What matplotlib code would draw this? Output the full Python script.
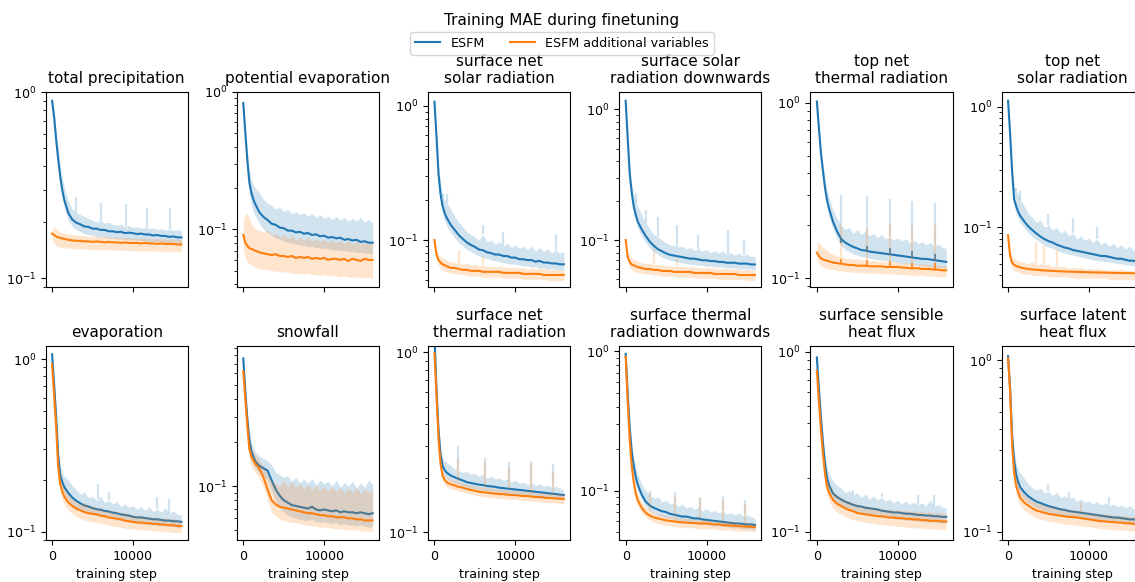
import numpy as np
import matplotlib
matplotlib.use("Agg")
import matplotlib.pyplot as plt
from matplotlib.lines import Line2D

# ---------------- data ----------------
STEPS = [0, 250, 500, 750, 1000, 1250, 1500,
         2000, 2500, 3000, 3500, 4000, 4500, 5000, 5500, 6000, 6500, 7000, 7500,
         8000, 8500, 9000, 9500, 10000, 10500, 11000, 11500, 12000, 12500, 13000, 13500,
         14000, 14500, 15000, 15500, 16000]

TITLES = ["total precipitation", "potential evaporation", "surface net\nsolar radiation",
          "surface solar\nradiation downwards", "top net\nthermal radiation", "top net\nsolar radiation",
          "evaporation", "snowfall", "surface net\nthermal radiation",
          "surface thermal\nradiation downwards", "surface sensible\nheat flux", "surface latent\nheat flux"]

SERIES_LABELS = ["ESFM", "ESFM additional variables"]

# total precipitation
TP_E = [0.90, 0.74, 0.56, 0.44, 0.355, 0.30, 0.265,
        0.225, 0.207, 0.199, 0.195, 0.190, 0.189, 0.185, 0.185, 0.182, 0.182, 0.179, 0.179,
        0.177, 0.178, 0.175, 0.176, 0.175, 0.173, 0.174, 0.172, 0.172, 0.170, 0.171, 0.169,
        0.169, 0.167, 0.168, 0.166, 0.166]
TP_E_LO = [0.86, 0.68, 0.51, 0.40, 0.32, 0.27, 0.24,
           0.205, 0.19, 0.182, 0.178, 0.174, 0.172, 0.17, 0.168, 0.167, 0.166, 0.165, 0.164,
           0.163, 0.163, 0.162, 0.161, 0.161, 0.16, 0.16, 0.159, 0.158, 0.158, 0.157, 0.157,
           0.156, 0.155, 0.155, 0.154, 0.153]
TP_E_HI = [0.95, 0.80, 0.62, 0.50, 0.41, 0.35, 0.31,
           0.26, 0.235, 0.225, 0.22, 0.215, 0.21, 0.205, 0.20, 0.205, 0.198, 0.20, 0.195,
           0.192, 0.196, 0.19, 0.192, 0.188, 0.19, 0.186, 0.188, 0.185, 0.187, 0.183, 0.185,
           0.182, 0.184, 0.181, 0.183, 0.18]
TP_A = [0.174, 0.171, 0.168, 0.166, 0.165, 0.164, 0.163,
        0.161, 0.160, 0.159, 0.159, 0.158, 0.158, 0.157, 0.158, 0.157, 0.156, 0.157, 0.156,
        0.156, 0.155, 0.156, 0.155, 0.155, 0.155, 0.154, 0.155, 0.154, 0.154, 0.153, 0.154,
        0.153, 0.153, 0.153, 0.152, 0.152]
TP_A_LO = [0.163, 0.155, 0.15, 0.148, 0.147, 0.146, 0.146,
           0.145, 0.145, 0.144, 0.144, 0.144, 0.143, 0.143, 0.143, 0.142, 0.143, 0.142, 0.142,
           0.142, 0.141, 0.142, 0.141, 0.141, 0.141, 0.14, 0.141, 0.14, 0.14, 0.14, 0.14,
           0.139, 0.14, 0.139, 0.139, 0.139]
TP_A_HI = [0.185, 0.19, 0.185, 0.18, 0.178, 0.176, 0.175,
           0.173, 0.172, 0.171, 0.17, 0.17, 0.169, 0.168, 0.169, 0.167, 0.168, 0.167, 0.166,
           0.167, 0.165, 0.166, 0.165, 0.165, 0.164, 0.165, 0.164, 0.164, 0.163, 0.164, 0.163,
           0.163, 0.162, 0.163, 0.162, 0.162]

# potential evaporation
PE_E = [0.83, 0.51, 0.32, 0.22, 0.185, 0.165, 0.152,
        0.133, 0.123, 0.117, 0.110, 0.108, 0.103, 0.102, 0.098, 0.098, 0.095, 0.096, 0.093,
        0.094, 0.091, 0.092, 0.089, 0.090, 0.087, 0.088, 0.086, 0.087, 0.084, 0.085, 0.083,
        0.084, 0.081, 0.082, 0.080, 0.080]
PE_E_LO = [0.78, 0.45, 0.28, 0.18, 0.15, 0.135, 0.125,
           0.11, 0.1, 0.095, 0.09, 0.087, 0.085, 0.082, 0.081, 0.079, 0.078, 0.077, 0.076,
           0.075, 0.075, 0.074, 0.073, 0.073, 0.072, 0.071, 0.071, 0.07, 0.07, 0.069, 0.069,
           0.068, 0.068, 0.067, 0.067, 0.066]
PE_E_HI = [0.88, 0.58, 0.38, 0.27, 0.23, 0.21, 0.20,
           0.185, 0.165, 0.155, 0.15, 0.14, 0.145, 0.135, 0.14, 0.13, 0.135, 0.128, 0.132,
           0.125, 0.13, 0.122, 0.128, 0.12, 0.125, 0.118, 0.124, 0.117, 0.122, 0.115, 0.12,
           0.115, 0.122, 0.113, 0.118, 0.112]
PE_A = [0.091, 0.080, 0.076, 0.073, 0.072, 0.071, 0.070,
        0.068, 0.067, 0.066, 0.065, 0.066, 0.064, 0.064, 0.063, 0.064, 0.062, 0.063, 0.062,
        0.063, 0.061, 0.062, 0.061, 0.062, 0.060, 0.061, 0.061, 0.060, 0.061, 0.059, 0.061,
        0.060, 0.059, 0.061, 0.060, 0.060]
PE_A_LO = [0.075, 0.062, 0.058, 0.056, 0.055, 0.054, 0.053,
           0.052, 0.051, 0.051, 0.05, 0.05, 0.049, 0.049, 0.049, 0.048, 0.048, 0.048, 0.047,
           0.048, 0.047, 0.047, 0.046, 0.047, 0.046, 0.046, 0.046, 0.045, 0.046, 0.045, 0.045,
           0.045, 0.045, 0.044, 0.045, 0.044]
PE_A_HI = [0.11, 0.13, 0.13, 0.12, 0.11, 0.105, 0.10,
           0.098, 0.095, 0.1, 0.09, 0.094, 0.088, 0.092, 0.086, 0.09, 0.084, 0.088, 0.083,
           0.087, 0.082, 0.086, 0.081, 0.085, 0.08, 0.084, 0.08, 0.083, 0.079, 0.082, 0.078,
           0.082, 0.078, 0.081, 0.078, 0.08]

# surface net solar radiation
SNS_E = [1.07, 0.59, 0.31, 0.22, 0.18, 0.16, 0.147,
         0.13, 0.119, 0.109, 0.102, 0.096, 0.092, 0.089, 0.085, 0.084, 0.081, 0.080, 0.078,
         0.078, 0.076, 0.076, 0.074, 0.074, 0.072, 0.072, 0.071, 0.071, 0.069, 0.070, 0.068,
         0.068, 0.067, 0.067, 0.066, 0.066]
SNS_E_LO = [1.03, 0.54, 0.27, 0.19, 0.155, 0.14, 0.128,
            0.114, 0.104, 0.096, 0.09, 0.085, 0.082, 0.079, 0.076, 0.074, 0.073, 0.071, 0.07,
            0.069, 0.068, 0.067, 0.066, 0.066, 0.065, 0.064, 0.064, 0.063, 0.063, 0.062, 0.062,
            0.061, 0.061, 0.061, 0.06, 0.06]
SNS_E_HI = [1.1, 0.65, 0.36, 0.26, 0.22, 0.2, 0.19,
            0.17, 0.15, 0.135, 0.125, 0.115, 0.11, 0.105, 0.1, 0.11, 0.097, 0.1, 0.093,
            0.098, 0.09, 0.095, 0.088, 0.092, 0.087, 0.09, 0.085, 0.09, 0.083, 0.088, 0.082,
            0.086, 0.08, 0.085, 0.08, 0.082]
SNS_A = [0.10, 0.078, 0.071, 0.068, 0.066, 0.065, 0.064,
         0.062, 0.062, 0.061, 0.060, 0.060, 0.059, 0.059, 0.059, 0.058, 0.058, 0.058, 0.058,
         0.058, 0.057, 0.057, 0.057, 0.057, 0.057, 0.056, 0.056, 0.056, 0.056, 0.056, 0.055,
         0.055, 0.055, 0.055, 0.055, 0.055]
SNS_A_LO = [0.095, 0.072, 0.065, 0.062, 0.06, 0.059, 0.058,
            0.057, 0.056, 0.056, 0.055, 0.055, 0.054, 0.054, 0.054, 0.053, 0.053, 0.053, 0.053,
            0.053, 0.052, 0.052, 0.052, 0.052, 0.052, 0.051, 0.051, 0.051, 0.051, 0.051, 0.051,
            0.05, 0.05, 0.05, 0.05, 0.05]
SNS_A_HI = [0.105, 0.085, 0.078, 0.075, 0.074, 0.072, 0.071,
            0.069, 0.068, 0.068, 0.066, 0.067, 0.065, 0.066, 0.064, 0.065, 0.064, 0.064, 0.063,
            0.064, 0.063, 0.063, 0.062, 0.063, 0.062, 0.062, 0.061, 0.062, 0.061, 0.062, 0.061,
            0.061, 0.06, 0.061, 0.06, 0.06]

# surface solar radiation downwards
SSRD_E = [1.16, 0.60, 0.32, 0.23, 0.18, 0.155, 0.138,
          0.12, 0.107, 0.097, 0.090, 0.085, 0.082, 0.079, 0.077, 0.076, 0.075, 0.074, 0.073,
          0.072, 0.072, 0.071, 0.070, 0.070, 0.069, 0.069, 0.068, 0.068, 0.067, 0.067, 0.067,
          0.066, 0.066, 0.066, 0.065, 0.065]
SSRD_E_LO = [1.12, 0.55, 0.28, 0.2, 0.16, 0.138, 0.123,
             0.106, 0.095, 0.087, 0.081, 0.077, 0.074, 0.072, 0.07, 0.069, 0.068, 0.067, 0.066,
             0.065, 0.065, 0.064, 0.064, 0.063, 0.063, 0.062, 0.062, 0.062, 0.061, 0.061, 0.061,
             0.06, 0.06, 0.06, 0.06, 0.059]
SSRD_E_HI = [1.2, 0.66, 0.37, 0.27, 0.22, 0.2, 0.18,
             0.155, 0.135, 0.12, 0.11, 0.105, 0.1, 0.095, 0.092, 0.09, 0.088, 0.09, 0.085,
             0.088, 0.083, 0.086, 0.082, 0.085, 0.08, 0.083, 0.079, 0.082, 0.078, 0.08, 0.077,
             0.079, 0.076, 0.078, 0.075, 0.075]
SSRD_A = [0.10, 0.074, 0.068, 0.065, 0.064, 0.063, 0.062,
          0.061, 0.060, 0.060, 0.059, 0.059, 0.058, 0.058, 0.058, 0.057, 0.057, 0.057, 0.057,
          0.057, 0.056, 0.056, 0.056, 0.056, 0.056, 0.055, 0.055, 0.055, 0.055, 0.055, 0.055,
          0.054, 0.054, 0.054, 0.054, 0.054]
SSRD_A_LO = [0.095, 0.068, 0.062, 0.059, 0.058, 0.057, 0.056,
             0.056, 0.055, 0.055, 0.054, 0.054, 0.053, 0.053, 0.053, 0.053, 0.052, 0.052, 0.052,
             0.052, 0.052, 0.051, 0.051, 0.051, 0.051, 0.051, 0.05, 0.05, 0.05, 0.05, 0.05,
             0.05, 0.05, 0.049, 0.049, 0.049]
SSRD_A_HI = [0.105, 0.082, 0.076, 0.072, 0.071, 0.07, 0.069,
             0.067, 0.066, 0.067, 0.065, 0.065, 0.064, 0.064, 0.063, 0.063, 0.063, 0.063, 0.062,
             0.063, 0.062, 0.062, 0.061, 0.062, 0.061, 0.061, 0.06, 0.061, 0.06, 0.06, 0.06,
             0.06, 0.059, 0.06, 0.059, 0.059]

# top net thermal radiation
TNT_E = [1.02, 0.72, 0.52, 0.41, 0.33, 0.28, 0.25,
         0.21, 0.185, 0.168, 0.160, 0.155, 0.151, 0.148, 0.145, 0.144, 0.142, 0.141, 0.140,
         0.139, 0.138, 0.137, 0.136, 0.135, 0.134, 0.133, 0.132, 0.131, 0.130, 0.129, 0.129,
         0.128, 0.127, 0.126, 0.125, 0.124]
TNT_E_LO = [0.98, 0.66, 0.47, 0.37, 0.3, 0.255, 0.225,
            0.19, 0.168, 0.153, 0.146, 0.141, 0.138, 0.135, 0.133, 0.132, 0.13, 0.129, 0.128,
            0.127, 0.126, 0.125, 0.124, 0.123, 0.122, 0.121, 0.121, 0.12, 0.119, 0.118, 0.118,
            0.117, 0.116, 0.115, 0.115, 0.114]
TNT_E_HI = [1.06, 0.78, 0.57, 0.46, 0.37, 0.32, 0.29,
            0.245, 0.22, 0.2, 0.19, 0.195, 0.18, 0.19, 0.178, 0.185, 0.175, 0.18, 0.17,
            0.178, 0.168, 0.172, 0.165, 0.17, 0.163, 0.168, 0.16, 0.165, 0.158, 0.162, 0.155,
            0.16, 0.153, 0.157, 0.15, 0.148]
TNT_A = [0.140, 0.134, 0.130, 0.128, 0.127, 0.126, 0.125,
         0.123, 0.122, 0.121, 0.120, 0.119, 0.119, 0.118, 0.118, 0.118, 0.117, 0.117, 0.117,
         0.117, 0.116, 0.116, 0.116, 0.116, 0.115, 0.115, 0.114, 0.114, 0.114, 0.113, 0.113,
         0.113, 0.112, 0.112, 0.111, 0.111]
TNT_A_LO = [0.128, 0.122, 0.118, 0.116, 0.115, 0.114, 0.113,
            0.112, 0.111, 0.11, 0.109, 0.109, 0.108, 0.108, 0.108, 0.107, 0.107, 0.107, 0.107,
            0.106, 0.106, 0.106, 0.106, 0.105, 0.105, 0.105, 0.104, 0.104, 0.104, 0.104, 0.103,
            0.103, 0.103, 0.102, 0.102, 0.102]
TNT_A_HI = [0.16, 0.158, 0.155, 0.15, 0.148, 0.145, 0.14,
            0.138, 0.134, 0.133, 0.13, 0.13, 0.128, 0.129, 0.127, 0.128, 0.126, 0.127, 0.125,
            0.126, 0.124, 0.125, 0.123, 0.124, 0.122, 0.123, 0.121, 0.122, 0.12, 0.121, 0.12,
            0.12, 0.119, 0.119, 0.118, 0.118]

# top net solar radiation
TNS_E = [1.12, 0.60, 0.29, 0.17, 0.15, 0.135, 0.125,
         0.112, 0.102, 0.095, 0.089, 0.084, 0.080, 0.077, 0.075, 0.072, 0.070, 0.068, 0.067,
         0.065, 0.064, 0.063, 0.062, 0.061, 0.060, 0.059, 0.058, 0.058, 0.057, 0.056, 0.055,
         0.055, 0.054, 0.053, 0.053, 0.052]
TNS_E_LO = [1.07, 0.55, 0.25, 0.15, 0.13, 0.118, 0.11,
            0.099, 0.09, 0.084, 0.079, 0.075, 0.071, 0.069, 0.067, 0.065, 0.063, 0.061, 0.06,
            0.059, 0.058, 0.057, 0.056, 0.055, 0.054, 0.053, 0.053, 0.052, 0.052, 0.051, 0.05,
            0.05, 0.049, 0.049, 0.048, 0.048]
TNS_E_HI = [1.18, 0.66, 0.34, 0.22, 0.2, 0.19, 0.17,
            0.15, 0.13, 0.12, 0.11, 0.115, 0.1, 0.105, 0.095, 0.1, 0.09, 0.095, 0.085,
            0.09, 0.08, 0.085, 0.078, 0.082, 0.075, 0.08, 0.072, 0.076, 0.07, 0.074, 0.068,
            0.072, 0.066, 0.07, 0.065, 0.062]
TNS_A = [0.0860, 0.0580, 0.0510, 0.0490, 0.0480, 0.0472, 0.0466,
         0.0458, 0.0452, 0.0448, 0.0446, 0.0442, 0.0440, 0.0438, 0.0437, 0.0434, 0.0433, 0.0431, 0.0430,
         0.0429, 0.0428, 0.0427, 0.0426, 0.0425, 0.0424, 0.0423, 0.0423, 0.0422, 0.0421, 0.0420, 0.0420,
         0.0419, 0.0418, 0.0418, 0.0417, 0.0416]
TNS_A_LO = [0.082, 0.052, 0.046, 0.044, 0.043, 0.043, 0.042,
            0.041, 0.041, 0.04, 0.04, 0.04, 0.04, 0.039, 0.039, 0.039, 0.039, 0.039, 0.039,
            0.038, 0.038, 0.038, 0.038, 0.038, 0.038, 0.038, 0.038, 0.038, 0.037, 0.037, 0.037,
            0.037, 0.037, 0.037, 0.037, 0.037]
TNS_A_HI = [0.09, 0.066, 0.058, 0.055, 0.054, 0.053, 0.052,
            0.051, 0.05, 0.052, 0.049, 0.05, 0.048, 0.05, 0.047, 0.049, 0.047, 0.048, 0.046,
            0.047, 0.046, 0.047, 0.045, 0.046, 0.045, 0.046, 0.045, 0.045, 0.044, 0.045, 0.044,
            0.045, 0.044, 0.044, 0.044, 0.044]

# evaporation
EV_E = [1.07, 0.72, 0.466, 0.28, 0.215, 0.195, 0.182,
        0.168, 0.158, 0.151, 0.146, 0.142, 0.140, 0.137, 0.135, 0.134, 0.132, 0.131, 0.129,
        0.128, 0.126, 0.125, 0.124, 0.122, 0.121, 0.121, 0.120, 0.119, 0.118, 0.118, 0.117,
        0.116, 0.116, 0.115, 0.115, 0.114]
EV_E_LO = [1.03, 0.68, 0.43, 0.25, 0.195, 0.178, 0.167,
           0.153, 0.144, 0.138, 0.134, 0.13, 0.128, 0.126, 0.124, 0.123, 0.121, 0.12, 0.119,
           0.117, 0.116, 0.115, 0.114, 0.113, 0.112, 0.111, 0.111, 0.11, 0.11, 0.109, 0.108,
           0.108, 0.107, 0.107, 0.106, 0.106]
EV_E_HI = [1.1, 0.76, 0.5, 0.31, 0.24, 0.22, 0.21,
           0.2, 0.185, 0.175, 0.165, 0.17, 0.158, 0.16, 0.152, 0.16, 0.148, 0.152, 0.145,
           0.15, 0.14, 0.145, 0.138, 0.142, 0.135, 0.14, 0.133, 0.14, 0.131, 0.135, 0.13,
           0.138, 0.128, 0.132, 0.126, 0.125]
EV_A = [0.94, 0.62, 0.41, 0.24, 0.19, 0.172, 0.16,
        0.148, 0.141, 0.136, 0.133, 0.130, 0.128, 0.127, 0.126, 0.124, 0.123, 0.121, 0.120,
        0.119, 0.118, 0.116, 0.115, 0.114, 0.113, 0.113, 0.112, 0.112, 0.111, 0.111, 0.110,
        0.110, 0.109, 0.109, 0.108, 0.108]
EV_A_LO = [0.9, 0.58, 0.37, 0.21, 0.17, 0.155, 0.145,
           0.134, 0.127, 0.122, 0.119, 0.117, 0.115, 0.114, 0.113, 0.112, 0.111, 0.109, 0.108,
           0.107, 0.106, 0.105, 0.104, 0.104, 0.103, 0.103, 0.102, 0.102, 0.101, 0.101, 0.1,
           0.1, 0.1, 0.099, 0.099, 0.099]
EV_A_HI = [0.97, 0.66, 0.45, 0.27, 0.21, 0.19, 0.178,
           0.165, 0.155, 0.15, 0.145, 0.148, 0.14, 0.142, 0.136, 0.14, 0.132, 0.135, 0.13,
           0.132, 0.127, 0.13, 0.125, 0.127, 0.123, 0.126, 0.122, 0.124, 0.12, 0.123, 0.119,
           0.121, 0.118, 0.12, 0.117, 0.116]

# snowfall
SF_E = [0.76, 0.45, 0.29, 0.21, 0.175, 0.16, 0.148,
        0.138, 0.133, 0.128, 0.11, 0.095, 0.086, 0.08, 0.077, 0.074, 0.073, 0.072, 0.071,
        0.07, 0.072, 0.069, 0.068, 0.069, 0.068, 0.067, 0.068, 0.066, 0.067, 0.066, 0.066,
        0.065, 0.066, 0.065, 0.064, 0.065]
SF_E_LO = [0.7, 0.4, 0.26, 0.185, 0.155, 0.142, 0.132,
           0.122, 0.116, 0.11, 0.093, 0.079, 0.071, 0.066, 0.063, 0.061, 0.06, 0.059, 0.058,
           0.058, 0.059, 0.057, 0.056, 0.057, 0.056, 0.055, 0.056, 0.054, 0.055, 0.054, 0.054,
           0.053, 0.054, 0.053, 0.052, 0.053]
SF_E_HI = [0.82, 0.5, 0.33, 0.24, 0.2, 0.185, 0.172,
           0.16, 0.155, 0.15, 0.14, 0.125, 0.12, 0.115, 0.118, 0.108, 0.115, 0.105, 0.112,
           0.104, 0.113, 0.102, 0.11, 0.104, 0.108, 0.1, 0.11, 0.098, 0.106, 0.1, 0.108,
           0.097, 0.105, 0.098, 0.11, 0.102]
SF_A = [0.62, 0.40, 0.26, 0.18, 0.16, 0.15, 0.142,
        0.132, 0.115, 0.095, 0.08, 0.075, 0.072, 0.071, 0.07, 0.069, 0.068, 0.067, 0.066,
        0.065, 0.065, 0.064, 0.063, 0.063, 0.062, 0.062, 0.061, 0.061, 0.061, 0.06, 0.06,
        0.059, 0.059, 0.058, 0.058, 0.058]
SF_A_LO = [0.58, 0.35, 0.22, 0.155, 0.138, 0.13, 0.123,
           0.114, 0.098, 0.08, 0.066, 0.062, 0.059, 0.058, 0.057, 0.056, 0.056, 0.055, 0.054,
           0.054, 0.053, 0.053, 0.052, 0.052, 0.052, 0.051, 0.051, 0.051, 0.05, 0.05, 0.05,
           0.05, 0.049, 0.049, 0.049, 0.049]
SF_A_HI = [0.66, 0.45, 0.3, 0.21, 0.185, 0.172, 0.163,
           0.152, 0.135, 0.12, 0.11, 0.105, 0.1, 0.11, 0.098, 0.108, 0.097, 0.105, 0.095,
           0.103, 0.094, 0.102, 0.093, 0.1, 0.092, 0.1, 0.091, 0.098, 0.09, 0.097, 0.09,
           0.098, 0.089, 0.096, 0.09, 0.095]

# surface net thermal radiation
SNT_E = [1.25, 0.62, 0.37, 0.27, 0.235, 0.222, 0.215,
         0.207, 0.202, 0.198, 0.194, 0.190, 0.188, 0.186, 0.184, 0.183, 0.181, 0.180, 0.179,
         0.177, 0.176, 0.175, 0.174, 0.173, 0.172, 0.171, 0.170, 0.169, 0.168, 0.167, 0.166,
         0.165, 0.164, 0.163, 0.162, 0.161]
SNT_E_LO = [1.2, 0.58, 0.34, 0.25, 0.215, 0.205, 0.2,
            0.193, 0.188, 0.185, 0.181, 0.178, 0.176, 0.174, 0.172, 0.171, 0.17, 0.168, 0.167,
            0.166, 0.165, 0.164, 0.163, 0.162, 0.161, 0.16, 0.159, 0.158, 0.158, 0.157, 0.156,
            0.155, 0.155, 0.154, 0.153, 0.153]
SNT_E_HI = [1.35, 0.68, 0.41, 0.3, 0.26, 0.25, 0.245,
            0.235, 0.225, 0.22, 0.215, 0.218, 0.21, 0.212, 0.205, 0.21, 0.2, 0.205, 0.198,
            0.2, 0.195, 0.198, 0.19, 0.195, 0.188, 0.19, 0.185, 0.19, 0.182, 0.186, 0.18,
            0.183, 0.178, 0.18, 0.176, 0.172]
SNT_A = [0.99, 0.58, 0.33, 0.24, 0.206, 0.196, 0.19,
         0.185, 0.182, 0.179, 0.177, 0.174, 0.172, 0.170, 0.168, 0.167, 0.166, 0.165, 0.164,
         0.163, 0.163, 0.162, 0.161, 0.161, 0.160, 0.159, 0.159, 0.158, 0.157, 0.157, 0.156,
         0.155, 0.155, 0.154, 0.154, 0.153]
SNT_A_LO = [0.96, 0.55, 0.31, 0.225, 0.194, 0.185, 0.179,
            0.175, 0.172, 0.169, 0.167, 0.165, 0.163, 0.161, 0.159, 0.158, 0.157, 0.156, 0.155,
            0.154, 0.154, 0.153, 0.152, 0.152, 0.151, 0.15, 0.15, 0.149, 0.148, 0.148, 0.147,
            0.146, 0.146, 0.145, 0.145, 0.144]
SNT_A_HI = [1.02, 0.61, 0.36, 0.26, 0.22, 0.21, 0.203,
            0.197, 0.194, 0.19, 0.188, 0.185, 0.183, 0.181, 0.179, 0.178, 0.177, 0.176, 0.175,
            0.174, 0.173, 0.172, 0.171, 0.171, 0.17, 0.169, 0.169, 0.168, 0.167, 0.167, 0.166,
            0.165, 0.165, 0.164, 0.164, 0.163]

# surface thermal radiation downwards
STRD_E = [0.96, 0.50, 0.28, 0.19, 0.15, 0.125, 0.11,
          0.093, 0.083, 0.078, 0.075, 0.073, 0.071, 0.070, 0.068, 0.067, 0.066, 0.065, 0.065,
          0.064, 0.063, 0.063, 0.062, 0.0615, 0.061, 0.0605, 0.060, 0.0595, 0.059, 0.0585, 0.058,
          0.058, 0.0575, 0.057, 0.057, 0.0566]
STRD_E_LO = [0.92, 0.45, 0.25, 0.17, 0.135, 0.113, 0.1,
             0.085, 0.076, 0.071, 0.069, 0.067, 0.065, 0.064, 0.063, 0.062, 0.061, 0.06, 0.06,
             0.059, 0.058, 0.058, 0.057, 0.057, 0.056, 0.056, 0.056, 0.055, 0.055, 0.054, 0.054,
             0.054, 0.053, 0.053, 0.053, 0.052]
STRD_E_HI = [1.0, 0.55, 0.32, 0.22, 0.17, 0.145, 0.13,
             0.11, 0.1, 0.092, 0.088, 0.09, 0.083, 0.085, 0.08, 0.082, 0.077, 0.08, 0.075,
             0.077, 0.073, 0.076, 0.071, 0.074, 0.07, 0.072, 0.069, 0.071, 0.068, 0.069, 0.067,
             0.069, 0.066, 0.067, 0.065, 0.063]
STRD_A = [0.92, 0.44, 0.23, 0.15, 0.115, 0.095, 0.085,
          0.075, 0.069, 0.066, 0.064, 0.063, 0.062, 0.061, 0.0605, 0.060, 0.0595, 0.059, 0.0588,
          0.0585, 0.0583, 0.058, 0.058, 0.058, 0.0575, 0.057, 0.057, 0.0565, 0.0562, 0.056, 0.0558,
          0.0555, 0.0552, 0.055, 0.0548, 0.0545]
STRD_A_LO = [0.89, 0.4, 0.2, 0.135, 0.102, 0.086, 0.077,
             0.069, 0.064, 0.061, 0.059, 0.058, 0.057, 0.056, 0.056, 0.055, 0.055, 0.054, 0.054,
             0.054, 0.054, 0.053, 0.053, 0.053, 0.053, 0.053, 0.052, 0.052, 0.052, 0.052, 0.051,
             0.051, 0.051, 0.051, 0.051, 0.05]
STRD_A_HI = [0.95, 0.48, 0.26, 0.17, 0.13, 0.105, 0.094,
             0.082, 0.075, 0.072, 0.07, 0.068, 0.067, 0.066, 0.065, 0.065, 0.064, 0.063, 0.063,
             0.063, 0.062, 0.062, 0.062, 0.062, 0.061, 0.061, 0.061, 0.06, 0.06, 0.06, 0.06,
             0.059, 0.059, 0.059, 0.059, 0.058]

# surface sensible heat flux
SSHF_E = [0.93, 0.62, 0.43, 0.31, 0.24, 0.20, 0.182,
          0.163, 0.156, 0.151, 0.147, 0.144, 0.141, 0.139, 0.138, 0.136, 0.135, 0.134, 0.133,
          0.131, 0.130, 0.129, 0.128, 0.128, 0.127, 0.126, 0.126, 0.125, 0.124, 0.124, 0.123,
          0.123, 0.122, 0.122, 0.121, 0.121]
SSHF_E_LO = [0.88, 0.57, 0.39, 0.28, 0.215, 0.18, 0.165,
             0.148, 0.142, 0.138, 0.135, 0.132, 0.13, 0.128, 0.127, 0.125, 0.124, 0.123, 0.122,
             0.121, 0.12, 0.119, 0.118, 0.118, 0.117, 0.116, 0.116, 0.115, 0.115, 0.114, 0.114,
             0.113, 0.113, 0.112, 0.112, 0.112]
SSHF_E_HI = [0.99, 0.68, 0.48, 0.35, 0.27, 0.23, 0.21,
             0.19, 0.18, 0.175, 0.165, 0.17, 0.16, 0.165, 0.155, 0.162, 0.152, 0.158, 0.15,
             0.155, 0.148, 0.152, 0.145, 0.15, 0.143, 0.148, 0.142, 0.146, 0.14, 0.145, 0.139,
             0.15, 0.138, 0.142, 0.137, 0.135]
SSHF_A = [0.785, 0.53, 0.37, 0.272, 0.21, 0.178, 0.165,
          0.150, 0.143, 0.139, 0.135, 0.132, 0.130, 0.127, 0.126, 0.125, 0.124, 0.123, 0.122,
          0.122, 0.121, 0.120, 0.120, 0.119, 0.119, 0.118, 0.118, 0.117, 0.117, 0.116, 0.116,
          0.115, 0.115, 0.115, 0.114, 0.114]
SSHF_A_LO = [0.75, 0.49, 0.33, 0.245, 0.188, 0.16, 0.148,
             0.135, 0.128, 0.125, 0.122, 0.119, 0.117, 0.115, 0.114, 0.113, 0.112, 0.111, 0.11,
             0.11, 0.109, 0.108, 0.108, 0.107, 0.107, 0.106, 0.106, 0.105, 0.105, 0.105, 0.104,
             0.104, 0.104, 0.103, 0.103, 0.103]
SSHF_A_HI = [0.82, 0.57, 0.41, 0.3, 0.235, 0.2, 0.185,
             0.168, 0.16, 0.155, 0.15, 0.148, 0.145, 0.142, 0.14, 0.14, 0.138, 0.137, 0.135,
             0.136, 0.133, 0.134, 0.132, 0.133, 0.131, 0.131, 0.13, 0.131, 0.129, 0.13, 0.128,
             0.129, 0.127, 0.128, 0.127, 0.126]

# surface latent heat flux
SLHF_E = [1.06, 0.69, 0.36, 0.26, 0.215, 0.195, 0.182,
          0.170, 0.161, 0.155, 0.150, 0.147, 0.144, 0.141, 0.139, 0.137, 0.135, 0.134, 0.132,
          0.131, 0.130, 0.129, 0.128, 0.127, 0.126, 0.125, 0.124, 0.123, 0.122, 0.121, 0.121,
          0.120, 0.119, 0.118, 0.118, 0.117]
SLHF_E_LO = [1.02, 0.63, 0.32, 0.23, 0.19, 0.175, 0.165,
             0.154, 0.147, 0.142, 0.138, 0.135, 0.132, 0.13, 0.128, 0.127, 0.125, 0.124, 0.123,
             0.122, 0.121, 0.12, 0.119, 0.118, 0.117, 0.117, 0.116, 0.115, 0.114, 0.114, 0.113,
             0.113, 0.112, 0.111, 0.111, 0.11]
SLHF_E_HI = [1.1, 0.75, 0.41, 0.3, 0.25, 0.23, 0.22,
             0.205, 0.19, 0.18, 0.175, 0.18, 0.168, 0.172, 0.162, 0.17, 0.158, 0.162, 0.155,
             0.16, 0.15, 0.155, 0.148, 0.152, 0.145, 0.15, 0.143, 0.147, 0.141, 0.145, 0.14,
             0.143, 0.138, 0.142, 0.136, 0.135]
SLHF_A = [1.03, 0.66, 0.32, 0.22, 0.185, 0.17, 0.158,
          0.148, 0.142, 0.137, 0.133, 0.131, 0.129, 0.127, 0.126, 0.125, 0.124, 0.123, 0.122,
          0.122, 0.121, 0.120, 0.119, 0.118, 0.117, 0.116, 0.115, 0.115, 0.114, 0.114, 0.113,
          0.113, 0.112, 0.112, 0.111, 0.111]
SLHF_A_LO = [0.99, 0.61, 0.28, 0.195, 0.165, 0.152, 0.142,
             0.133, 0.128, 0.124, 0.12, 0.118, 0.117, 0.115, 0.114, 0.113, 0.112, 0.111, 0.11,
             0.11, 0.109, 0.108, 0.107, 0.107, 0.106, 0.105, 0.104, 0.104, 0.103, 0.103, 0.102,
             0.102, 0.102, 0.101, 0.101, 0.1]
SLHF_A_HI = [1.07, 0.71, 0.36, 0.25, 0.205, 0.19, 0.177,
             0.165, 0.158, 0.152, 0.148, 0.146, 0.143, 0.142, 0.14, 0.138, 0.137, 0.136, 0.135,
             0.134, 0.133, 0.132, 0.131, 0.13, 0.129, 0.128, 0.127, 0.127, 0.126, 0.125, 0.125,
             0.124, 0.124, 0.123, 0.123, 0.122]

# occasional spikes of the shaded band (step, top value)
E_SPIKE_STEPS = [[3000, 6100, 9200, 11800, 14600], [], [1000, 1500, 6000, 8500, 15000],
                 [1300, 2500, 4000, 6400, 9000, 12700, 14600], [3000, 6200, 9000, 11800, 14600],
                 [1000, 1500, 5000, 8000, 11000], [5700, 7000, 13000, 14500], [],
                 [2900, 6200, 9250, 11900, 14700], [3000, 6100, 9200, 12000, 14700],
                 [4500, 8000, 12500, 14500], [5000, 7500, 12500]]
E_SPIKE_TOPS = [[0.275, 0.253, 0.25, 0.24, 0.24], [], [0.21, 0.22, 0.13, 0.115, 0.11],
                [0.23, 0.17, 0.15, 0.13, 0.11, 0.12, 0.1], [0.30, 0.295, 0.285, 0.275, 0.27],
                [0.21, 0.2, 0.13, 0.12, 0.1], [0.19, 0.17, 0.16, 0.155], [],
                [0.3, 0.26, 0.245, 0.25, 0.24], [0.1, 0.098, 0.09, 0.092, 0.085],
                [0.17, 0.165, 0.16, 0.16], [0.19, 0.17, 0.16]]
A_SPIKE_STEPS = [[], [], [3000, 6000], [3500, 6400], [3000, 6200, 9000, 11800, 14600],
                 [3500, 4500, 6000], [], [], [2900, 6200, 9250, 11900, 14700],
                 [3000, 6100, 9200, 12000, 14700], [], [9000]]
A_SPIKE_TOPS = [[], [], [0.085, 0.075], [0.085, 0.072], [0.2, 0.19, 0.2, 0.2, 0.2],
                [0.075, 0.07, 0.065], [], [], [0.26, 0.245, 0.23, 0.24, 0.22],
                [0.098, 0.09, 0.088, 0.085, 0.08], [], [0.15]]
# small spikes in the mean lines of "top net thermal radiation"
TNT_LINE_SPIKE_STEPS = [3000, 6200, 9000, 11800, 14600]
TNT_E_LINE_SPIKE_TOPS = [0.158, 0.153, 0.148, 0.143, 0.138]
TNT_A_LINE_SPIKE_TOPS = [0.129, 0.127, 0.125, 0.123, 0.122]

ESFM = [TP_E, PE_E, SNS_E, SSRD_E, TNT_E, TNS_E, EV_E, SF_E, SNT_E, STRD_E, SSHF_E, SLHF_E]
ESFM_LO = [TP_E_LO, PE_E_LO, SNS_E_LO, SSRD_E_LO, TNT_E_LO, TNS_E_LO, EV_E_LO, SF_E_LO,
           SNT_E_LO, STRD_E_LO, SSHF_E_LO, SLHF_E_LO]
ESFM_HI = [TP_E_HI, PE_E_HI, SNS_E_HI, SSRD_E_HI, TNT_E_HI, TNS_E_HI, EV_E_HI, SF_E_HI,
           SNT_E_HI, STRD_E_HI, SSHF_E_HI, SLHF_E_HI]
ADDV = [TP_A, PE_A, SNS_A, SSRD_A, TNT_A, TNS_A, EV_A, SF_A, SNT_A, STRD_A, SSHF_A, SLHF_A]
ADDV_LO = [TP_A_LO, PE_A_LO, SNS_A_LO, SSRD_A_LO, TNT_A_LO, TNS_A_LO, EV_A_LO, SF_A_LO,
           SNT_A_LO, STRD_A_LO, SSHF_A_LO, SLHF_A_LO]
ADDV_HI = [TP_A_HI, PE_A_HI, SNS_A_HI, SSRD_A_HI, TNT_A_HI, TNS_A_HI, EV_A_HI, SF_A_HI,
           SNT_A_HI, STRD_A_HI, SSHF_A_HI, SLHF_A_HI]

YLIMS = [(0.0895, 1.007), (0.0379, 1.003), (0.0445, 1.27), (0.0435, 1.36), (0.0888, 1.16),
         (0.0319, 1.33), (0.0895, 1.2), (0.0425, 0.93), (0.0906, 1.09), (0.0441, 1.10),
         (0.090, 1.08), (0.0894, 1.22)]

for group in (ESFM, ESFM_LO, ESFM_HI, ADDV, ADDV_LO, ADDV_HI):
    for arr in group:
        if len(arr) != len(STEPS):
            raise ValueError("length mismatch: %d" % len(arr))

# ---------------- style ----------------
C_E = "#1f77b4"
C_A = "#ff7f0e"
plt.rcParams["font.family"] = ["DejaVu Sans"]
plt.rcParams["font.size"] = 9.1
plt.rcParams["axes.titlesize"] = 10.95

W, H = 1135, 582
fig, axes = plt.subplots(2, 6, sharex=True, figsize=(W / 100, H / 100), dpi=100)
axes = axes.ravel()

x = np.array(STEPS, dtype=float)
for i, ax in enumerate(axes):
    r, c = divmod(i, 6)
    left = (45.6 + c * 191.2) / W
    if r == 0:
        ax.set_position([left, (H - 287.3) / H, 142.3 / W, 195.6 / H])
    else:
        ax.set_position([left, (H - 540.0) / H, 142.3 / W, 194.3 / H])

    e, elo, ehi = np.array(ESFM[i]), np.array(ESFM_LO[i]), np.array(ESFM_HI[i])
    a, alo, ahi = np.array(ADDV[i]), np.array(ADDV_LO[i]), np.array(ADDV_HI[i])

    ax.plot(x, e, color=C_E, lw=1.5, zorder=2.0)
    ax.fill_between(x, elo, ehi, color=C_E, alpha=0.2, lw=0, zorder=2.1)
    if E_SPIKE_STEPS[i]:
        s = np.array(E_SPIKE_STEPS[i], dtype=float)
        ax.vlines(s, np.interp(s, x, ehi), E_SPIKE_TOPS[i], color=C_E, alpha=0.2, lw=1.6, zorder=2.1)
    if i == 4:
        s = np.array(TNT_LINE_SPIKE_STEPS, dtype=float)
        ax.vlines(s, np.interp(s, x, e), TNT_E_LINE_SPIKE_TOPS, color=C_E, lw=1.1, zorder=2.0)

    ax.plot(x, a, color=C_A, lw=1.5, zorder=2.2)
    ax.fill_between(x, alo, ahi, color=C_A, alpha=0.2, lw=0, zorder=2.3)
    if A_SPIKE_STEPS[i]:
        s = np.array(A_SPIKE_STEPS[i], dtype=float)
        ax.vlines(s, np.interp(s, x, ahi), A_SPIKE_TOPS[i], color=C_A, alpha=0.2, lw=1.6, zorder=2.3)
    if i == 4:
        s = np.array(TNT_LINE_SPIKE_STEPS, dtype=float)
        ax.vlines(s, np.interp(s, x, a), TNT_A_LINE_SPIKE_TOPS, color=C_A, lw=1.1, zorder=2.2)

    ax.set_yscale("log")
    ax.set_ylim(*YLIMS[i])
    ax.set_title(TITLES[i])
    if r == 1:
        ax.set_xlabel("training step")

fig.text(562 / W, 1 - 20 / H, "Training MAE during finetuning", ha="center", va="center",
         fontsize=10.95)
handles = [Line2D([], [], color=C_E, lw=1.5), Line2D([], [], color=C_A, lw=1.5)]
fig.legend(handles, SERIES_LABELS, loc="upper center", bbox_to_anchor=(562 / W, 1 - 31.5 / H),
           ncol=2, fontsize=9.1, borderaxespad=0)

fig.savefig("out.png", dpi=100)
